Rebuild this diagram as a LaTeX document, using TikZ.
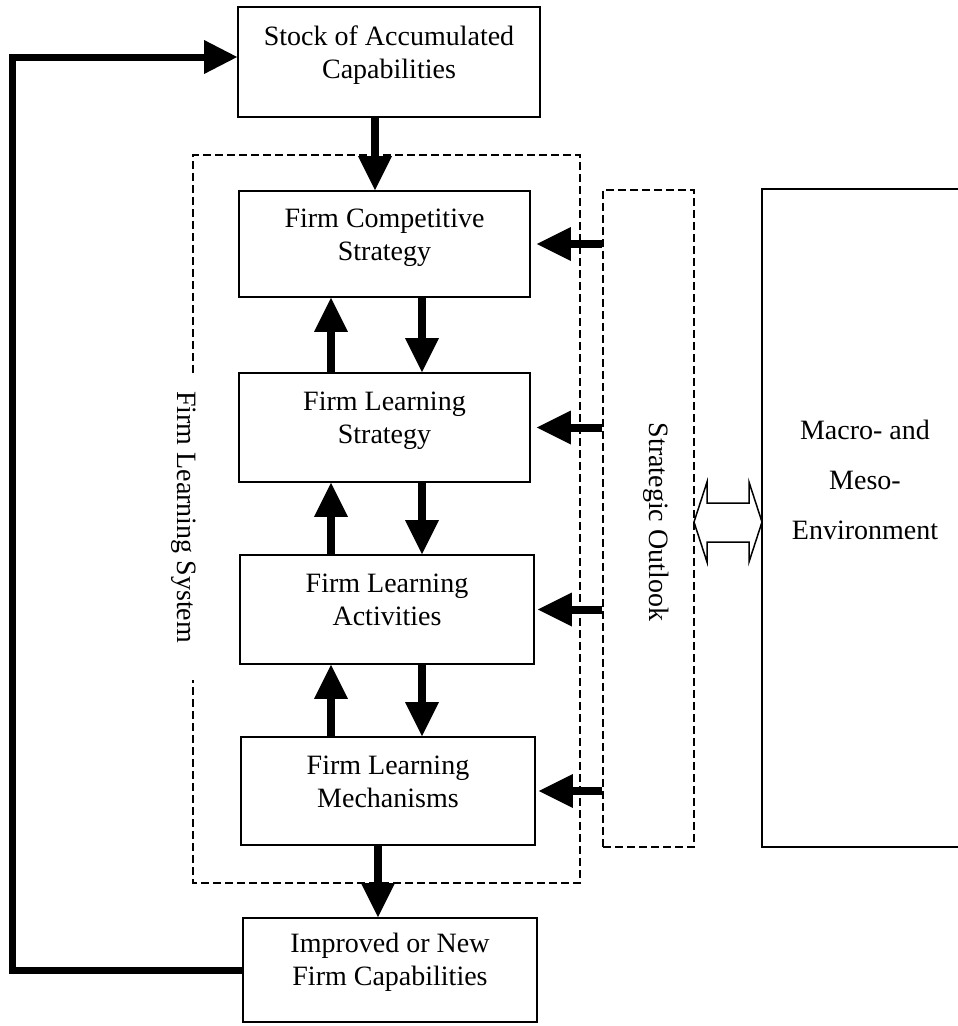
\documentclass[tikz,border=0pt]{standalone}
\usepackage{fontspec}
\setmainfont{Liberation Serif}
\usetikzlibrary{arrows.meta,calc}
\begin{document}
\begin{tikzpicture}[x=1pt,y=-1pt,
  box/.style={draw, line width=1.8pt, minimum width=#1, minimum height=107pt, inner sep=0pt},
  box/.default=292pt,
  txt/.style={font=\fontsize{28}{33}\selectfont, align=center, inner sep=0pt},
  bigarrow/.style={line width=8pt, -{Triangle[width=34pt,length=34pt,line width=0pt]}},
  loopline/.style={line width=7pt, line join=miter, -{Triangle[width=34pt,length=33pt,line width=0pt]}},
  dashedline/.style={line width=1.6pt, dash pattern=on 8pt off 4pt},
  thinline/.style={line width=1.5pt}
]
\useasboundingbox (0,0) rectangle (958,1026);

% main column of boxes
\node[box=302pt, minimum height=110pt] (stock) at (389,62) {};
\node[box=291pt, minimum height=106pt] (comp) at (384.5,244) {};
\node[box=291pt, minimum height=109pt] (lstrat) at (384.5,427.5) {};
\node[box=294pt, minimum height=109pt] (activ) at (387,609.5) {};
\node[box=294pt, minimum height=108pt] (mech) at (388,791) {};
\node[box=294pt, minimum height=104pt] (improved) at (390,970) {};

\node[txt] (stockT) at ([yshift=7pt]stock.center) {Stock of Accumulated\strut\\Capabilities\strut};
\node[txt] (compT) at ([yshift=7pt]comp.center) {Firm Competitive\strut\\Strategy\strut};
\node[txt] (lstratT) at ([yshift=7pt]lstrat.center) {Firm Learning\strut\\Strategy\strut};
\node[txt] (activT) at ([yshift=7pt]activ.center) {Firm Learning\strut\\Activities\strut};
\node[txt] (mechT) at ([yshift=7pt]mech.center) {Firm Learning\strut\\Mechanisms\strut};
\node[txt] (improvedT) at ([yshift=8pt]improved.center) {Improved or New\strut\\Firm Capabilities\strut};

% firm learning system: dashed frame with a gap for its label
\node[txt, rotate=-90] (flsT) at (184,517) {Firm Learning System};
\draw[dashedline] (193,373) -- (193,155) -- (580,155) -- (580,883) -- (193,883) -- (193,680);

% strategic outlook
\node[draw, dashedline, minimum width=91pt, minimum height=657pt, inner sep=0pt] (so) at (648.5,518.5) {};
\node[txt, rotate=-90] (soT) at (656,522) {Strategic Outlook};

% macro- and meso-environment (right side runs off the page)
\node[draw, thinline, minimum width=206pt, minimum height=658pt, inner sep=0pt] (macro) at (865,518) {};
\node[font=\fontsize{28}{50}\selectfont, align=center, inner sep=0pt] (macroT) at (865,479.5)
  {Macro- and\strut\\Meso-\strut\\Environment\strut};

% two-way hollow arrow between outlook and environment
\coordinate (dl) at (694,522);
\coordinate (dr) at (762,522);
\draw[thinline, line join=miter, fill=white] (dl) -- ++(13,-40) -- ++(0,21) -- ++(42,0) -- ++(0,-21)
  -- (dr) -- ++(-13,40) -- ++(0,-20) -- ++(-42,0) -- ++(0,20) -- cycle;

% arrow columns
\coordinate (topx) at (375,0);
\coordinate (upx) at (331,0);
\coordinate (dnx) at (422,0);
\coordinate (botx) at (378,0);
\coordinate (loop) at (12,57);

\draw[bigarrow] (stock.south -| topx) -- (comp.north -| topx);
\draw[bigarrow] (lstrat.north -| upx) -- (comp.south -| upx);
\draw[bigarrow] (comp.south -| dnx) -- (lstrat.north -| dnx);
\draw[bigarrow] (activ.north -| upx) -- (lstrat.south -| upx);
\draw[bigarrow] (lstrat.south -| dnx) -- (activ.north -| dnx);
\draw[bigarrow] (mech.north -| upx) -- (activ.south -| upx);
\draw[bigarrow] (activ.south -| dnx) -- (mech.north -| dnx);
\draw[bigarrow] (mech.south -| botx) -- (improved.north -| botx);

% outlook feeding each box
\draw[bigarrow, shorten >=6pt] (so.west |- comp.east) -- (comp.east);
\draw[bigarrow, shorten >=6pt] (so.west |- lstrat.east) -- (lstrat.east);
\draw[bigarrow, shorten >=3pt] (so.west |- activ.east) -- (activ.east);
\draw[bigarrow, shorten >=3pt] (so.west |- mech.east) -- (mech.east);

% feedback loop
\draw[loopline] (improved.west) -| (loop) -- (loop -| stock.west);
\end{tikzpicture}
\end{document}
